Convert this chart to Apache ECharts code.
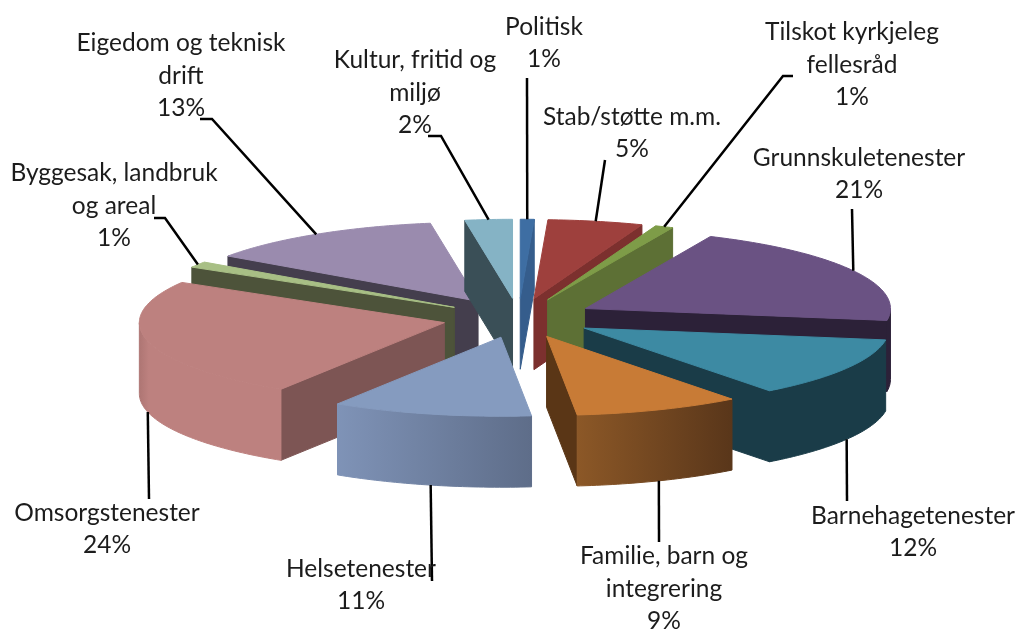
<!DOCTYPE html>
<html>
<head>
<meta charset="utf-8">
<style>html,body{margin:0;padding:0;background:#fff}#c{width:1019px;height:629px}</style>
<script src="https://cdn.jsdelivr.net/npm/echarts@6/dist/echarts.min.js"></script>
</head>
<body>
<div id="c"></div>
<script>
// ---- data ----
const categories = ['Politisk','Stab/støtte m.m.','Tilskot kyrkjeleg\nfellesråd','Grunnskuletenester','Barnehagetenester','Familie, barn og\nintegrering','Helsetenester','Omsorgstenester','Byggesak, landbruk\nog areal','Eigedom og teknisk\ndrift','Kultur, fritid og\nmiljø'];
// slice shares estimated from the drawn angles
const sliceValues = [0.73,5.03,0.96,20.68,12.2,8.8,10.6,24.5,1.2,12.8,2.5];
// percentages as printed on the labels
const printedPercent = [1,5,1,21,12,9,11,24,1,13,2];

// ---- style / layout ----
const topColors  = ['#3e6ea3','#9e403d','#7e9c48','#6a5283','#3d8aa3','#c87b36','#859bbf','#bd817f','#a8bf85','#9a8bae','#85b3c5'];
const faceColors = ['#355d8c','#7c302e','#5d7035','#2c2138','#1a3c48','#5a3616','#6b7b98','#7d5554','#4d533a','#443e4d','#3a4f57'];
const arcColors  = [null,null,null,['#2c2138','#2c2138'],['#1a3c48','#1a3c48'],['#8c5827','#59361a'],['#7f93b7','#5e6d89'],['#ad7573','#bd817f'],null,null,null];
const drawOrder  = [9,10,0,1,2,8,3,7,4,5,6];
const labelCenters = [[544,43],[632,133],[852,65],[859,174],[913,532],[664,589],[361,585],[107,529],[114,206],[181,76],[415,93]];
const leaderElbows = [[[527,78]],[[605,160]],[[793,76],[783,76]],[[852,209]],[[847,501]],[[659,542]],[[432,581]],[[149,499]],[[154,218],[165,218]],[[200,119],[212,119]],[[428,136],[441,136]]];
const cx = 518.5, cy = 318, Rx = 305, Ry = 79, depth = 71, explode = 0.25;

const total = sliceValues.reduce((a,b)=>a+b,0);
const D = Math.PI/180;
const startAngles = []; let acc = 0;
sliceValues.forEach(v=>{ startAngles.push(acc/total*360); acc+=v; });

function geom(i){
  const a0 = startAngles[i], a1 = a0 + sliceValues[i]/total*360, m = (a0+a1)/2;
  const A = [cx + explode*Rx*Math.sin(m*D), cy - explode*Ry*Math.cos(m*D)];
  const rim = a => [A[0] + Rx*Math.sin(a*D), A[1] - Ry*Math.cos(a*D)];
  return {a0,a1,m,A,rim};
}
function faceVisible(A,P,O){
  const v=[P[0]-A[0],P[1]-A[1]], o=[O[0]-A[0],O[1]-A[1]];
  return v[0]*(v[0]*o[1]-v[1]*o[0]) < 0;
}
function poly(points,fill){
  return {type:'polygon',shape:{points},style:{fill,stroke:fill,lineWidth:1}};
}
function renderSlice(params,api){
  const i = api.value(0), g = geom(i), ch = [];
  const P0=g.rim(g.a0), P1=g.rim(g.a1), Pm=g.rim(g.m), A=g.A;
  [P0,P1].forEach(P=>{
    if(faceVisible(A,P,Pm)) ch.push(poly([A,P,[P[0],P[1]+depth],[A[0],A[1]+depth]],faceColors[i]));
  });
  const s=Math.max(g.a0,90), e=Math.min(g.a1,270);
  if(e>s && arcColors[i]){
    const up=[],down=[];
    for(let a=s;;a+=1){ const t=Math.min(a,e),p=g.rim(t); up.push(p); down.unshift([p[0],p[1]+depth]); if(a>=e)break; }
    const cs = arcColors[i];
    const fill = new echarts.graphic.LinearGradient(0,0,1,0,
      i===7 ? [{offset:0,color:cs[0]},{offset:0.07,color:cs[1]},{offset:1,color:cs[1]}]
            : [{offset:0,color:cs[0]},{offset:1,color:cs[1]}]);
    ch.push(poly(up.concat(down),fill));
  }
  const topPts=[A];
  for(let a=g.a0;;a+=1){ const t=Math.min(a,g.a1); topPts.push(g.rim(t)); if(a>=g.a1)break; }
  ch.push(poly(topPts,topColors[i]));
  return {type:'group',children:ch};
}
function renderLabel(params,api){
  const i = api.value(0), g = geom(i), p = g.rim(g.m);
  const anchor = Math.cos(g.m*D)<0 ? [p[0],p[1]+depth] : p;
  return {type:'group',children:[
    {type:'polyline',shape:{points:leaderElbows[i].concat([anchor])},style:{fill:null,stroke:'#000',lineWidth:2.5}},
    {type:'text',style:{text:categories[i]+'\n'+printedPercent[i]+'%',x:labelCenters[i][0],y:labelCenters[i][1],
      align:'center',verticalAlign:'middle',font:'24.5px Lato',lineHeight:32.5,fill:'#1c1c1c'}}
  ]};
}
const chart = echarts.init(document.getElementById('c'));
chart.setOption({
  animation:false,
  series:[
    {type:'custom',coordinateSystem:'none',z:2,data:drawOrder.map(i=>[i,sliceValues[i]]),renderItem:renderSlice,silent:true},
    {type:'custom',coordinateSystem:'none',z:3,data:categories.map((c,i)=>[i,printedPercent[i]]),renderItem:renderLabel,silent:true}
  ]
});
</script>
</body>
</html>
